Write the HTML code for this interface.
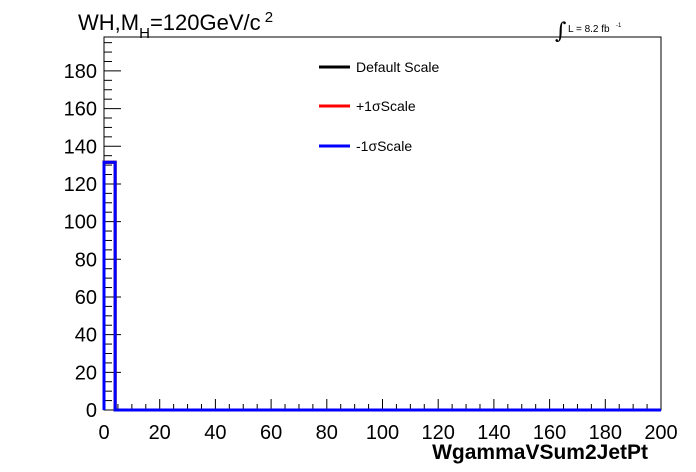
<!DOCTYPE html>
<html><head><meta charset="utf-8"><style>
html,body{margin:0;padding:0;background:#fff;}
svg{display:block;font-family:"Liberation Sans",Arial,sans-serif;}
</style></head><body>
<svg id="chart" width="696" height="472" viewBox="0 0 696 472" xmlns="http://www.w3.org/2000/svg">
<rect x="0" y="0" width="696" height="472" fill="#fff"/>
<text x="78" y="30" font-size="22">WH,M<tspan font-size="15" dy="8">H</tspan><tspan dy="-8">=120GeV/c</tspan><tspan font-size="15" dy="-8"> 2</tspan></text>
<g>
<text x="555" y="38" font-size="22" font-family="DejaVu Serif, serif">∫</text>
<text x="568" y="32" font-size="10">L = 8.2 fb</text><text x="616" y="27" font-size="6">-1</text>
</g>
<rect x="104" y="37" width="557" height="373" fill="none" stroke="#000" stroke-width="1"/>
<g id="yaxis"></g>
<g id="xaxis"></g>
<g id="series"></g>
<text x="648" y="459" font-size="21" font-weight="bold" text-anchor="end">WgammaVSum2JetPt</text>
<g>
<g><line x1="319" y1="67" x2="350" y2="67" stroke="#000" stroke-width="3"/><text x="356" y="72" font-size="14">Default Scale</text></g>
<g><line x1="319" y1="106" x2="350" y2="106" stroke="#f00" stroke-width="3"/><text x="356" y="111" font-size="14">+1σScale</text></g>
<g><line x1="319" y1="146" x2="350" y2="146" stroke="#00f" stroke-width="3"/><text x="356" y="151" font-size="14">-1σScale</text></g>
</g>
</svg>
<script>
const binEdgesStart = 0;
const binWidth = 4;
const defaultValues = [131.5].concat(new Array(49).fill(0));
const plusValues = [131.5].concat(new Array(49).fill(0));
const minusValues = [131.5].concat(new Array(49).fill(0));
const xTicks = [0,20,40,60,80,100,120,140,160,180,200];
const yTicks = [0,20,40,60,80,100,120,140,160,180];

const NS = "http://www.w3.org/2000/svg";
const X0=104, X1=661, Y0=410, Y1=37, XMIN=0, XMAX=200, YMIN=0, YMAX=198;
function sx(v){return X0+(v-XMIN)/(XMAX-XMIN)*(X1-X0);}
function sy(v){return Y0-(v-YMIN)/(YMAX-YMIN)*(Y0-Y1);}
function mk(tag,attrs,parent){const e=document.createElementNS(NS,tag);for(const k in attrs)e.setAttribute(k,attrs[k]);parent.appendChild(e);return e;}

const ya=document.getElementById('yaxis');
for(let v=0; v<=YMAX; v+=5){
  const major = v%20===0;
  const l=mk('line',{x1:X0,x2:X0+(major?17:8),y1:sy(v),y2:sy(v),stroke:'#000','stroke-width':1},ya);
  
  
}
yTicks.forEach(v=>{
  const t=mk('text',{x:97,y:sy(v)+7,'font-size':20,'text-anchor':'end'},ya);
  t.textContent=v;
  
  
});
const xa=document.getElementById('xaxis');
for(let v=0; v<=XMAX; v+=5){
  const major = v%20===0;
  const l=mk('line',{x1:sx(v),x2:sx(v),y1:Y0,y2:Y0-(major?11:6),stroke:'#000','stroke-width':1},xa);
  
  
}
xTicks.forEach(v=>{
  const t=mk('text',{x:sx(v),y:439,'font-size':20,'text-anchor':'middle'},xa);
  t.textContent=v;
  
  
});
function histPath(vals){
  let d='M'+sx(binEdgesStart)+' '+sy(0);
  vals.forEach((v,i)=>{
    const a=binEdgesStart+i*binWidth, b=a+binWidth;
    d+=' L'+sx(a)+' '+sy(v)+' L'+sx(b)+' '+sy(v);
  });
  return d;
}
const sg=document.getElementById('series');
[[defaultValues,'#000','default-scale-hist'],[plusValues,'#f00','plus1sigma-scale-hist'],[minusValues,'#00f','minus1sigma-scale-hist']].forEach(s=>{
  const p=mk('path',{d:histPath(s[0]),fill:'none',stroke:s[1],'stroke-width':3},sg);
  
  
});
</script>
</body></html>
